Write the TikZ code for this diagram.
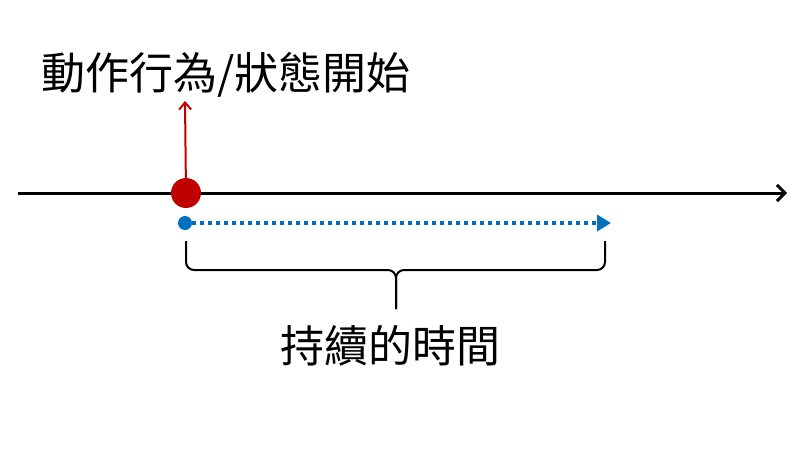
\documentclass[tikz,border=0pt]{standalone}
\usepackage{fontspec}
\setmainfont{Noto Sans CJK TC}
\usetikzlibrary{arrows.meta,positioning}
\definecolor{startred}{HTML}{C00000}
\definecolor{spanblue}{HTML}{0070C0}
\tikzset{
    timeline/.style={line width=3pt, -{Straight Barb[length=8pt,width=16pt,line width=3pt]}}, % the time axis
    point/.style={circle, inner sep=0pt, draw=none},
    label/.style={font=\fontsize{44}{52}\selectfont, inner sep=0pt},
    brace/.style={line width=2pt, rounded corners=8pt},
}
\begin{document}
\begin{tikzpicture}[x=1pt, y=-1pt]
    \useasboundingbox (0,0) rectangle (800,450);
    % Asse e punti
    \coordinate (T0) at (18,193);
    \coordinate (T1) at (787,193);
    \draw[timeline] (T0) -- (T1);
    \node[point, fill=startred, minimum size=30pt] (start) at (186,193) {};
    \node[point, fill=spanblue, minimum size=14pt] (from) at (185,223) {};
    \coordinate (to) at (611,223);
    \coordinate (peak) at (185,101);

    % Testi
    \node[label] (title) at (226,75) {動作行為/狀態開始};
    \node[label] (duration) at (390,346) {持續的時間};

    % Frecce
    \draw[startred, line width=2pt, -{Straight Barb[length=7pt,width=12pt,line width=2pt]}] (start) -- (peak);
    \draw[spanblue, line width=4pt, dash pattern=on 4pt off 4pt, -{Triangle[length=14pt,width=16pt]}] (from) -- (to);

    % Parentesi
    \coordinate (BL) at (186,241);
    \coordinate (BR) at (605,241);
    \coordinate (BM) at (396,270);
    \coordinate (BT) at (396,309);
    \draw[brace] (BL) -- (BL |- BM) -- (BM) -- (BT);
    \draw[brace] (BR) -- (BR |- BM) -- (BM) -- (BT);
\end{tikzpicture}
\end{document}
